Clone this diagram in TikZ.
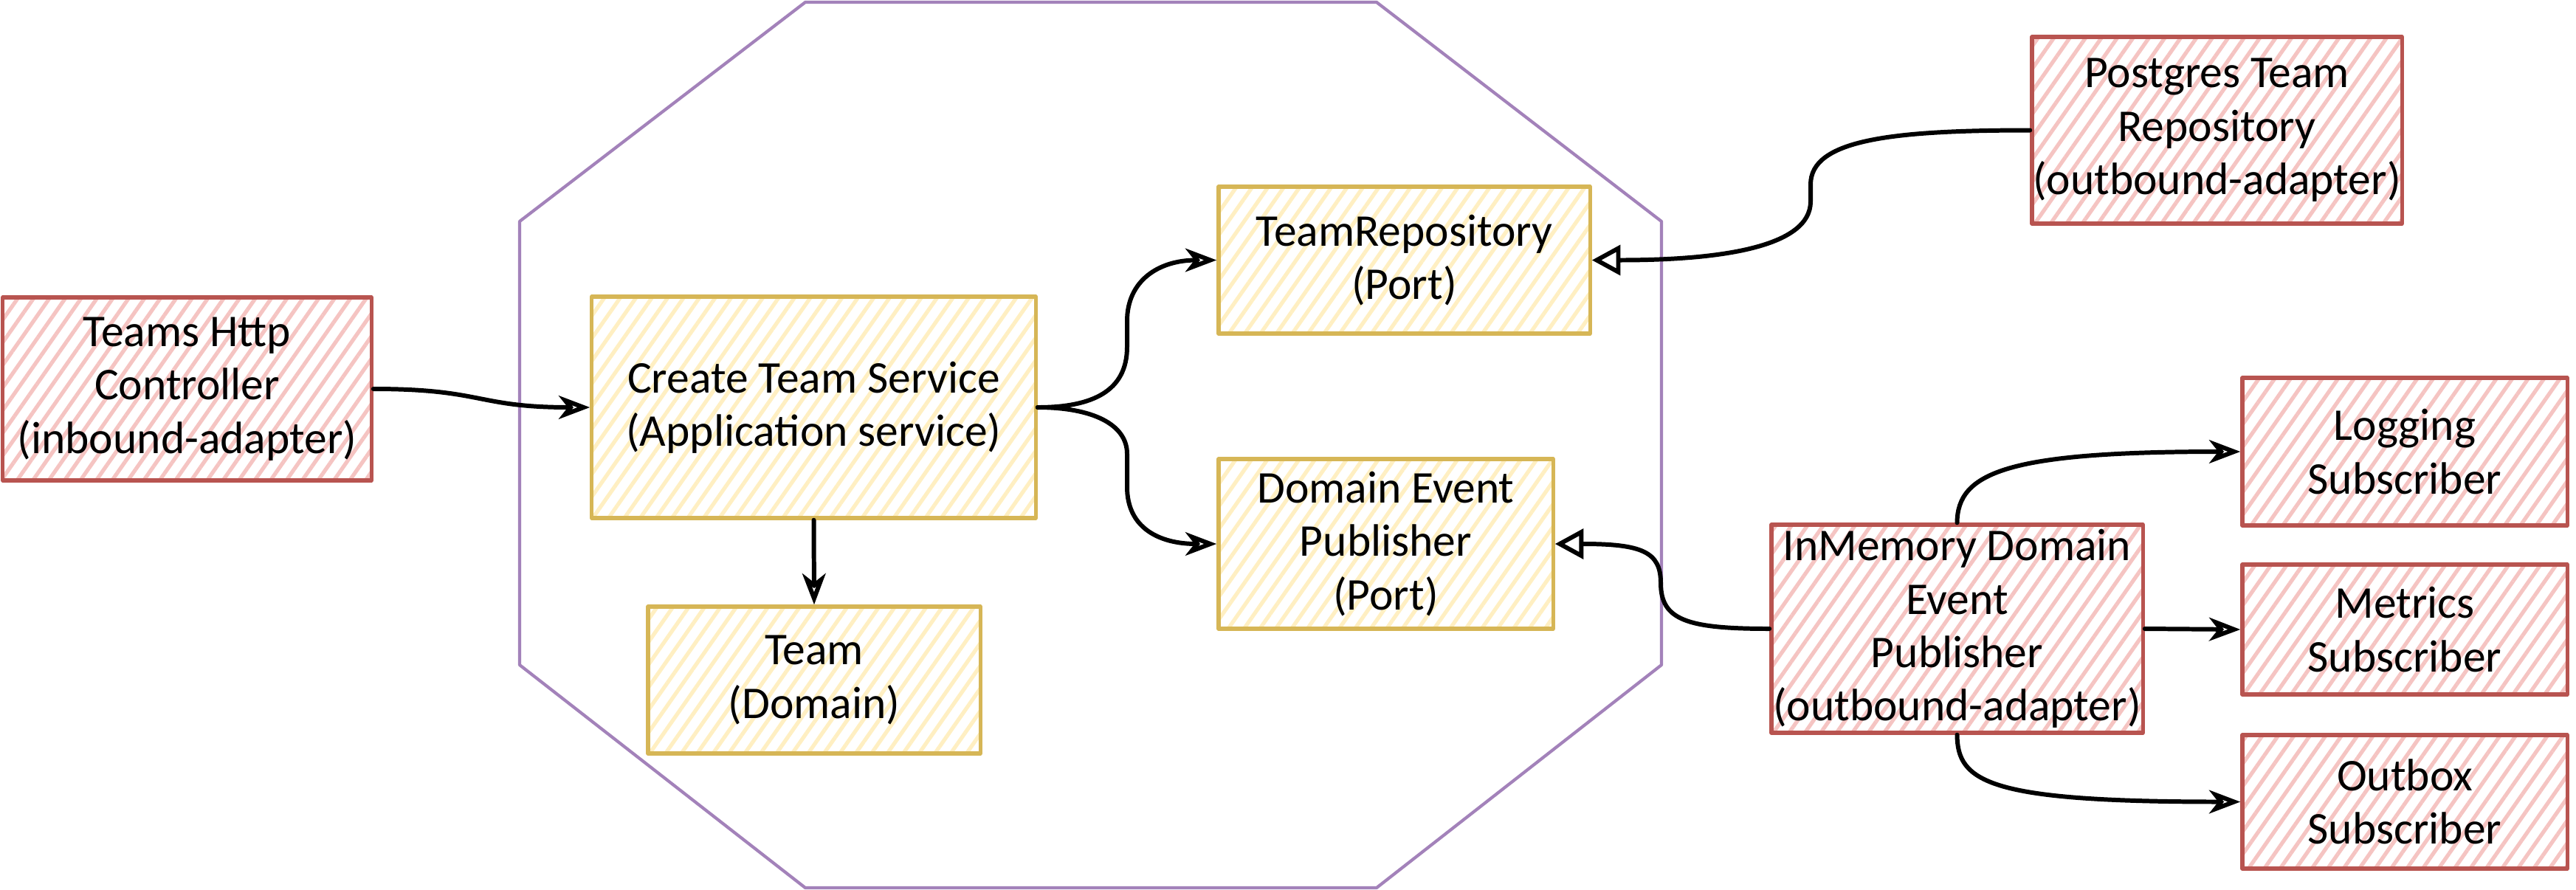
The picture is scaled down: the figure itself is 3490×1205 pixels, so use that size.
\documentclass[tikz,border=0pt]{standalone}
\usepackage{fontspec}
\setmainfont{Carlito}
\usetikzlibrary{arrows.meta,patterns.meta}
\definecolor{redline}{HTML}{B85450}
\definecolor{redfill}{HTML}{F5C4C2}
\definecolor{yelline}{HTML}{D6B656}
\definecolor{yelfill}{HTML}{FFEFC2}
\definecolor{purp}{HTML}{A382BA}
\tikzset{
  box/.style={rectangle, inner sep=0pt, align=center, text=black,
    font=\fontsize{17.5}{20.6}\selectfont, line width=1.5pt, line join=round},
  redbox/.style={box, draw=redline,
    pattern={Lines[angle=55,distance=5pt,line width=1.5pt]}, pattern color=redfill},
  yelbox/.style={box, draw=yelline,
    pattern={Lines[angle=55,distance=5pt,line width=1.5pt]}, pattern color=yelfill},
  arr/.style={line width=1.7pt, line cap=round, line join=round,
    -{Stealth[open,length=12pt,width=9pt,inset=3.5pt]}},
  impl/.style={line width=1.7pt, line cap=round, line join=round,
    -{Triangle[open,length=11pt,width=11.5pt]}},
  octa/.style={draw=purp, line width=1.2pt, line join=round},
}
\begin{document}
\begin{tikzpicture}[x=0.01cm,y=-0.01cm]
\useasboundingbox (0,0) rectangle (3490,1205);
% hexagonal architecture boundary
\draw[octa] (1091,3) -- (1865,3) -- (2251,300) -- (2251,901) -- (1865,1203)
  -- (1091,1203) -- (704,901) -- (704,300) -- cycle;
% nodes
\node[redbox, minimum width=4.99cm, minimum height=2.48cm] (ctrl) at (253.5,527)
  {Teams Http\\Controller\\(inbound-adapter)};
\node[yelbox, minimum width=6.01cm, minimum height=3.00cm] (svc) at (1102.5,552)
  {Create Team Service\\(Application service)};
\node[yelbox, minimum width=4.50cm, minimum height=1.99cm] (team) at (1103,921.5)
  {Team\\(Domain)};
\node[yelbox, minimum width=5.03cm, minimum height=1.99cm] (repo) at (1902.5,352.5)
  {TeamRepository\\(Port)};
\node[yelbox, minimum width=4.53cm, minimum height=2.30cm] (dep) at (1877.5,737)
  {Domain Event\\Publisher\\(Port)};
\node[redbox, minimum width=5.01cm, minimum height=2.53cm] (pg) at (3003.5,176.5)
  {Postgres Team\\Repository\\(outbound-adapter)};
\node[redbox, minimum width=5.03cm, minimum height=2.82cm] (inm) at (2651.5,852)
  {InMemory Domain\\Event\\Publisher\\(outbound-adapter)};
\node[redbox, minimum width=4.40cm, minimum height=2.00cm] (log) at (3258,612)
  {Logging\\Subscriber};
\node[redbox, minimum width=4.40cm, minimum height=1.76cm] (met) at (3258,853)
  {Metrics\\Subscriber};
\node[redbox, minimum width=4.40cm, minimum height=1.81cm] (out) at (3258,1086.5)
  {Outbox\\Subscriber};
% connectors
\draw[arr] (ctrl.east) .. controls (655,527) and (645,552) .. (svc.west);
\draw[arr] (svc.south) -- (team.north);
\draw[arr] (svc.east) .. controls (1480,552) and (1527,530) .. (1527,470)
  -- (1527,435) .. controls (1527,380) and (1570,352.5) .. (repo.west);
\draw[arr] (svc.east) .. controls (1480,552) and (1527,575) .. (1527,615)
  -- (1527,660) .. controls (1527,715) and (1570,737) .. (dep.west);
\draw[impl] (pg.west) .. controls (2560,176.5) and (2453,190) .. (2453,250)
  -- (2453,273) .. controls (2453,335) and (2330,352.5) .. (repo.east);
\draw[impl] (inm.west) .. controls (2285,852) and (2250,840) .. (2250,790)
  .. controls (2250,748) and (2225,737) .. (dep.east);
\draw[arr] (inm.north) .. controls (2652,640) and (2720,612) .. (log.west);
\draw[arr] (inm.east) -- (met.west);
\draw[arr] (inm.south) .. controls (2652,1060) and (2695,1086.5) .. (out.west);
\end{tikzpicture}
\end{document}
